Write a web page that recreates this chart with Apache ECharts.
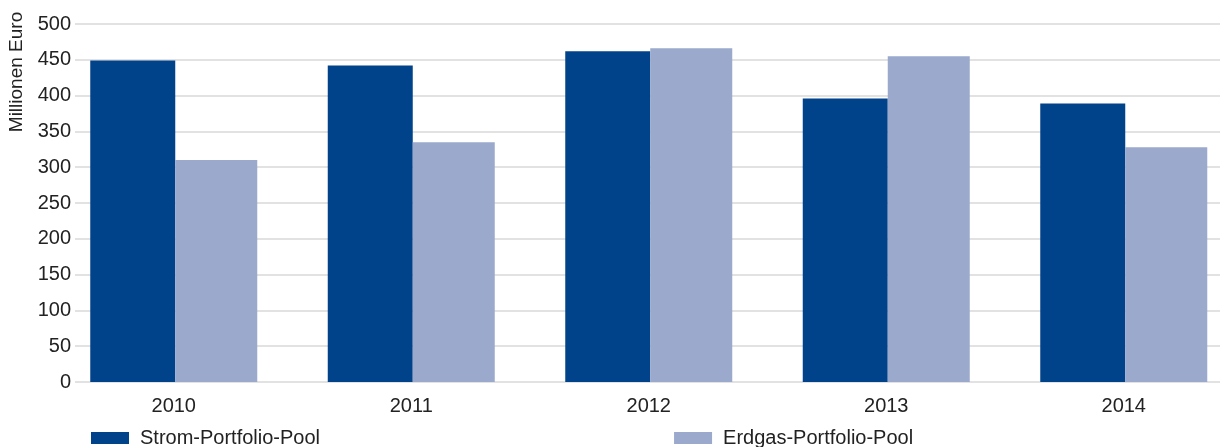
<!DOCTYPE html>
<html>
<head>
<meta charset="utf-8">
<script src="https://cdn.jsdelivr.net/npm/echarts@6/dist/echarts.min.js"></script>
<style>
html,body{margin:0;padding:0;background:#fff;}
#chart{width:1220px;height:447px;}
</style>
</head>
<body>
<div id="chart"></div>
<script>
var categories = ['2010', '2011', '2012', '2013', '2014'];
var stromValues = [449, 442, 462, 396, 389];
var erdgasValues = [310, 335, 466, 455, 328];
var seriesNames = ['Strom-Portfolio-Pool', 'Erdgas-Portfolio-Pool'];
var yTitle = 'Millionen Euro';

var FONT = '"Liberation Sans", Arial, sans-serif';
var chart = echarts.init(document.getElementById('chart'), null, {renderer: 'canvas'});
chart.setOption({
  animation: false,
  backgroundColor: '#ffffff',
  textStyle: {fontFamily: FONT},
  grid: [
    {left: 75, right: 0, top: 24, bottom: 65, outerBoundsMode: 'none'},
    {left: 55, width: 1187.5, top: 24, bottom: 65, outerBoundsMode: 'none'}
  ],
  xAxis: [
    {gridIndex: 0, type: 'category', data: categories, show: false},
    {gridIndex: 1, type: 'category', data: categories,
     axisLine: {show: false}, axisTick: {show: false},
     axisLabel: {color: '#222', fontSize: 20, fontFamily: FONT, margin: 14}}
  ],
  yAxis: [
    {gridIndex: 0, type: 'value', min: 0, max: 500, interval: 50,
     axisLine: {show: false}, axisTick: {show: false},
     axisLabel: {color: '#222', fontSize: 20, fontFamily: FONT, margin: 4},
     splitLine: {lineStyle: {color: '#d8d8d8', width: 1.5}}},
    {gridIndex: 1, type: 'value', min: 0, max: 500, interval: 50, show: false,
     splitLine: {show: false}}
  ],
  legend: {
    left: 86, top: 423, itemWidth: 38, itemHeight: 12, itemGap: 354,
    icon: 'rect',
    textStyle: {color: '#222', fontSize: 20, fontFamily: FONT, padding: [0, 0, 0, 6]},
    data: seriesNames
  },
  graphic: [{
    type: 'text', x: 17, y: 72, rotation: Math.PI / 2,
    style: {text: yTitle, fill: '#222', font: '19px ' + FONT, align: 'center', verticalAlign: 'middle'}
  }],
  series: [
    {name: seriesNames[0], type: 'bar', xAxisIndex: 1, yAxisIndex: 1, data: stromValues,
     barWidth: 85, barGap: '0%', itemStyle: {color: '#00438A'}},
    {name: seriesNames[1], type: 'bar', xAxisIndex: 1, yAxisIndex: 1, data: erdgasValues,
     barWidth: 82, barGap: '0%', itemStyle: {color: '#9AA9CC'}}
  ]
});
</script>
</body>
</html>
